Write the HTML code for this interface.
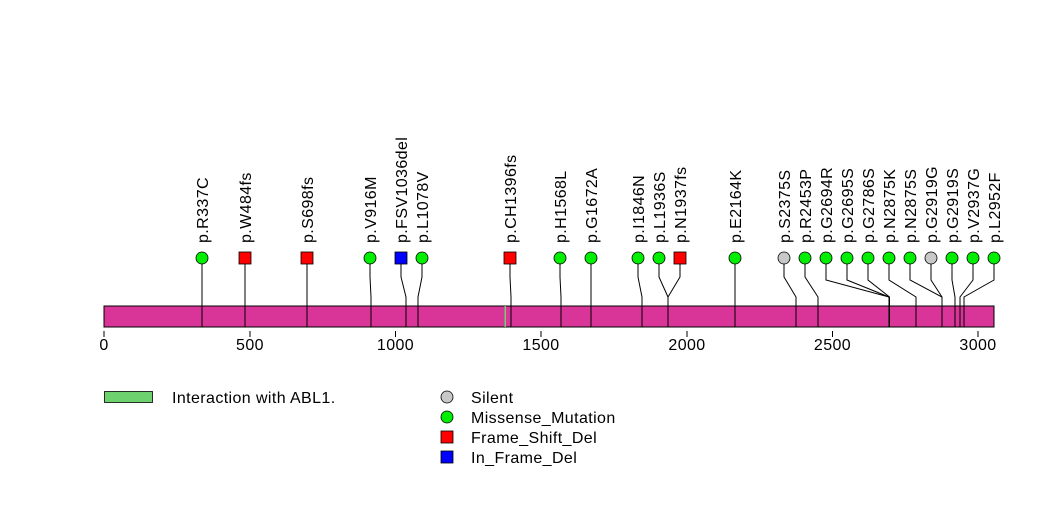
<!DOCTYPE html>
<html><head><meta charset="utf-8"><style>
html,body{margin:0;padding:0;background:#fff;}
svg text{font-family:"Liberation Sans",sans-serif;font-size:16px;letter-spacing:0.4px;fill:#000;}
</style></head><body>
<svg width="1047" height="524" viewBox="0 0 1047 524" xmlns="http://www.w3.org/2000/svg">
<rect x="104" y="306" width="890" height="21" fill="#d93498" stroke="#000" stroke-width="1"/>
<rect x="504.5" y="306" width="1.5" height="21" fill="#6dd16d"/>
<g stroke="#000" stroke-width="1">
<line x1="104" y1="331" x2="104" y2="337"/>
<line x1="250" y1="331" x2="250" y2="337"/>
<line x1="395.5" y1="331" x2="395.5" y2="337"/>
<line x1="541" y1="331" x2="541" y2="337"/>
<line x1="687" y1="331" x2="687" y2="337"/>
<line x1="832.5" y1="331" x2="832.5" y2="337"/>
<line x1="978" y1="331" x2="978" y2="337"/>
</g>
<g text-anchor="middle" style="letter-spacing:0">
<text x="104" y="350">0</text><text x="250" y="350">500</text><text x="395.5" y="350">1000</text>
<text x="541" y="350">1500</text><text x="687" y="350">2000</text><text x="832.5" y="350">2500</text><text x="978" y="350">3000</text>
</g>
<g stroke="#000" stroke-width="1" fill="none">
<polyline points="202,258 202,277 202,297 202,327"/>
<polyline points="245,258 245,277 245,297 245,327"/>
<polyline points="307,258 307,277 307,297 307,327"/>
<polyline points="370,258 370,277 371,297 371,327"/>
<polyline points="401,258 401,277 406,297 406,327"/>
<polyline points="422,258 422,277 418,297 418,327"/>
<polyline points="510,258 510,277 511,297 511,327"/>
<polyline points="560,258 560,277 561,297 561,327"/>
<polyline points="591,258 591,277 591,297 591,327"/>
<polyline points="638,258 638,277 642,297 642,327"/>
<polyline points="659,258 659,277 668,297 668,327"/>
<polyline points="680,258 680,277 668,297 668,327"/>
<polyline points="735,258 735,277 735,297 735,327"/>
<polyline points="784,258 784,277 796,297 796,327"/>
<polyline points="805,258 805,277 818,297 818,327"/>
<polyline points="826,258 826,280 889,297 889,327"/>
<polyline points="847,258 847,280 889,297 889,327"/>
<polyline points="868,258 868,280 889.5,297 889.5,327"/>
<polyline points="889,258 889,280 916,297 916,327"/>
<polyline points="910,258 910,280 942,297 942,327"/>
<polyline points="931,258 931,280 942,297 942,327"/>
<polyline points="952,258 952,280 955,297 955,327"/>
<polyline points="973,258 973,280 960,297 960,327"/>
<polyline points="994,258 994,280 964,297 964,327"/>
</g>
<g stroke="#000" stroke-width="0.8">
<circle cx="202" cy="258" r="6" fill="#00ee00"/>
<rect x="239" y="252" width="12" height="12" fill="#ff0000"/>
<rect x="301" y="252" width="12" height="12" fill="#ff0000"/>
<circle cx="370" cy="258" r="6" fill="#00ee00"/>
<rect x="395" y="252" width="12" height="12" fill="#0000ff"/>
<circle cx="422" cy="258" r="6" fill="#00ee00"/>
<rect x="504" y="252" width="12" height="12" fill="#ff0000"/>
<circle cx="560" cy="258" r="6" fill="#00ee00"/>
<circle cx="591" cy="258" r="6" fill="#00ee00"/>
<circle cx="638" cy="258" r="6" fill="#00ee00"/>
<circle cx="659" cy="258" r="6" fill="#00ee00"/>
<rect x="674" y="252" width="12" height="12" fill="#ff0000"/>
<circle cx="735" cy="258" r="6" fill="#00ee00"/>
<circle cx="784" cy="258" r="6" fill="#c8c8c8"/>
<circle cx="805" cy="258" r="6" fill="#00ee00"/>
<circle cx="826" cy="258" r="6" fill="#00ee00"/>
<circle cx="847" cy="258" r="6" fill="#00ee00"/>
<circle cx="868" cy="258" r="6" fill="#00ee00"/>
<circle cx="889" cy="258" r="6" fill="#00ee00"/>
<circle cx="910" cy="258" r="6" fill="#00ee00"/>
<circle cx="931" cy="258" r="6" fill="#c8c8c8"/>
<circle cx="952" cy="258" r="6" fill="#00ee00"/>
<circle cx="973" cy="258" r="6" fill="#00ee00"/>
<circle cx="994" cy="258" r="6" fill="#00ee00"/>
</g>
<g>
<text transform="translate(208,243) rotate(-90)">p.R337C</text>
<text transform="translate(251,243) rotate(-90)">p.W484fs</text>
<text transform="translate(313,243) rotate(-90)">p.S698fs</text>
<text transform="translate(376,243) rotate(-90)">p.V916M</text>
<text transform="translate(407,243) rotate(-90)">p.FSV1036del</text>
<text transform="translate(428,243) rotate(-90)">p.L1078V</text>
<text transform="translate(516,243) rotate(-90)">p.CH1396fs</text>
<text transform="translate(566,243) rotate(-90)">p.H1568L</text>
<text transform="translate(597,243) rotate(-90)">p.G1672A</text>
<text transform="translate(644,243) rotate(-90)">p.I1846N</text>
<text transform="translate(665,243) rotate(-90)">p.L1936S</text>
<text transform="translate(686,243) rotate(-90)">p.N1937fs</text>
<text transform="translate(741,243) rotate(-90)">p.E2164K</text>
<text transform="translate(790,243) rotate(-90)">p.S2375S</text>
<text transform="translate(811,243) rotate(-90)">p.R2453P</text>
<text transform="translate(832,243) rotate(-90)">p.G2694R</text>
<text transform="translate(853,243) rotate(-90)">p.G2695S</text>
<text transform="translate(874,243) rotate(-90)">p.G2786S</text>
<text transform="translate(895,243) rotate(-90)">p.N2875K</text>
<text transform="translate(916,243) rotate(-90)">p.N2875S</text>
<text transform="translate(937,243) rotate(-90)">p.G2919G</text>
<text transform="translate(958,243) rotate(-90)">p.G2919S</text>
<text transform="translate(979,243) rotate(-90)">p.V2937G</text>
<text transform="translate(1000,243) rotate(-90)">p.L2952F</text>
</g>
<rect x="104.5" y="391.5" width="48" height="11" fill="#6dd16d" stroke="#000" stroke-width="0.8"/>
<text x="172" y="403">Interaction with ABL1.</text>
<g stroke="#000" stroke-width="0.8">
<circle cx="447" cy="397" r="6" fill="#c8c8c8"/>
<circle cx="447" cy="417" r="6" fill="#00ee00"/>
<rect x="441" y="431" width="12" height="12" fill="#ff0000"/>
<rect x="441" y="451" width="12" height="12" fill="#0000ff"/>
</g>
<text x="471" y="403">Silent</text>
<text x="471" y="423">Missense_Mutation</text>
<text x="471" y="443">Frame_Shift_Del</text>
<text x="471" y="463">In_Frame_Del</text>
</svg>
</body></html>
